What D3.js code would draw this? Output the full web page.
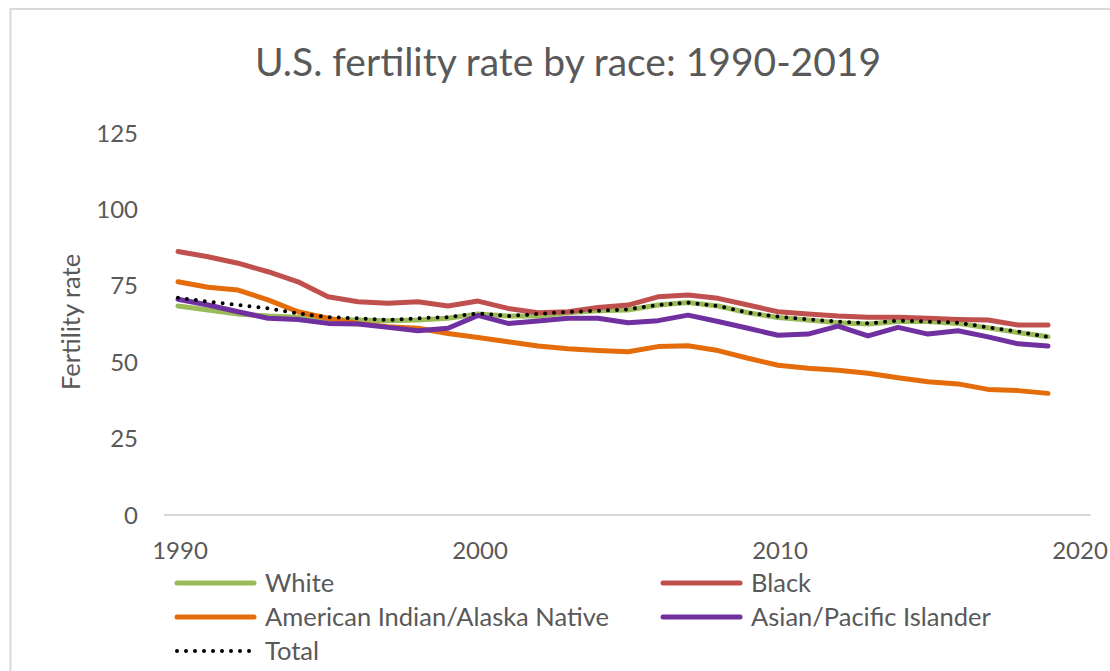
<!DOCTYPE html>
<html><head><meta charset="utf-8">
<script src="https://cdn.jsdelivr.net/npm/d3@7"></script>
<style>body{margin:0;background:#fff}svg{display:block}text{font-family:Lato,"Open Sans",sans-serif}</style>
</head><body><svg id="c" width="1110" height="671"></svg>
<script>
const years = [1990,1991,1992,1993,1994,1995,1996,1997,1998,1999,2000,2001,2002,2003,2004,2005,2006,2007,2008,2009,2010,2011,2012,2013,2014,2015,2016,2017,2018,2019];
const white = [68.4,67.1,65.8,65.1,64.7,64.0,63.8,63.6,63.8,64.4,65.8,65.1,65.1,66.2,66.8,67.1,68.7,69.5,68.4,66.2,64.6,63.8,62.9,62.5,63.3,63.3,62.7,61.3,59.7,58.3];
const black = [86.2,84.5,82.4,79.6,76.3,71.4,69.8,69.3,69.8,68.4,70.0,67.6,66.2,66.5,67.9,68.7,71.4,72.0,70.9,68.7,66.5,65.8,65.1,64.7,64.7,64.4,64.0,63.8,62.2,62.2];
const aian = [76.3,74.5,73.6,70.4,66.5,64.4,62.7,61.6,61.1,59.4,58.1,56.7,55.3,54.4,53.8,53.4,55.1,55.4,53.8,51.3,49.0,48.0,47.4,46.4,44.9,43.6,42.9,41.1,40.7,39.8];
const api = [70.6,68.7,66.5,64.4,64.0,62.7,62.5,61.4,60.3,61.1,65.3,62.7,63.5,64.4,64.4,62.9,63.6,65.4,63.3,61.1,58.8,59.2,61.8,58.6,61.4,59.2,60.3,58.3,56.0,55.3];
const total = [71.1,69.8,68.7,67.6,66.0,64.7,64.4,63.8,64.4,64.7,66.0,65.1,65.8,66.5,66.8,67.3,68.7,69.5,68.4,66.2,64.9,64.0,63.3,62.7,63.6,63.3,62.9,61.4,60.0,58.3];
const seriesNames = ["White","Black","American Indian/Alaska Native","Asian/Pacific Islander","Total"];
const xTicks = [1990,2000,2010,2020];
const yTicks = [0,25,50,75,100,125];
const titleText = "U.S. fertility rate by race: 1990-2019";
const yTitle = "Fertility rate";

const series = [
  {name:seriesNames[0], values:white, color:"#9bbb59", dotted:false},
  {name:seriesNames[1], values:black, color:"#c0504d", dotted:false},
  {name:seriesNames[2], values:aian, color:"#e46c0a", dotted:false},
  {name:seriesNames[3], values:api, color:"#7030a0", dotted:false},
  {name:seriesNames[4], values:total, color:"#000000", dotted:true}
];

const svg = d3.select("#c");
const x = d3.scaleLinear().domain([1990,2020]).range([178,1078]);
const y = d3.scaleLinear().domain([0,125]).range([515,133]);

// chart border
svg.append("rect").attr("x",10.5).attr("y",9).attr("width",1120).attr("height",700)
  .attr("fill","none").attr("stroke","#d9d9d9").attr("stroke-width",2);

svg.append("text").attr("x",568).attr("y",76).attr("text-anchor","middle")
  .attr("font-size",39).attr("fill","#595959").text(titleText);

// x axis line
svg.append("line").attr("x1",x(1989.53)).attr("x2",x(2020.43)).attr("y1",y(0)).attr("y2",y(0))
  .attr("stroke","#d9d9d9").attr("stroke-width",2);

svg.append("g").selectAll("text").data(yTicks).join("text")
  .attr("x",138).attr("y",d=>y(d)).attr("dy","0.36em").attr("text-anchor","end")
  .attr("font-size",24).attr("fill","#595959").text(d=>d);

svg.append("g").selectAll("text").data(xTicks).join("text")
  .attr("x",d=>x(d)+2).attr("y",559).attr("text-anchor","middle")
  .attr("font-size",24).attr("fill","#595959").text(d=>d);

svg.append("text").attr("transform","translate(80,322) rotate(-90)").attr("text-anchor","middle")
  .attr("font-size",25.5).attr("fill","#595959").text(yTitle);

const line = d3.line().x((d,i)=>x(years[i])).y(d=>y(d));
series.forEach(s=>{
  const p = svg.append("path").attr("d",line(s.values)).attr("fill","none")
    .attr("stroke",s.color).attr("stroke-linejoin","round").attr("stroke-linecap","round");
  if(s.dotted) p.attr("stroke-width",4).attr("stroke-dasharray","0 9");
  else p.attr("stroke-width",5);
});

// legend
const legPos = [[174,583],[660,583],[174,617],[660,617],[174,651]];
series.forEach((s,i)=>{
  const [lx,ly] = legPos[i];
  const g = svg.append("g");
  const l = g.append("line").attr("x1",lx+3).attr("x2",lx+80).attr("y1",ly).attr("y2",ly)
    .attr("stroke",s.color).attr("stroke-linecap","round");
  if(s.dotted) l.attr("stroke-width",4).attr("stroke-dasharray","0 9").attr("x2",lx+78);
  else l.attr("stroke-width",5);
  g.append("text").attr("x",lx+91).attr("y",ly).attr("dy","0.36em")
    .attr("font-size",25.5).attr("fill","#595959").text(s.name);
});
</script></body></html>
